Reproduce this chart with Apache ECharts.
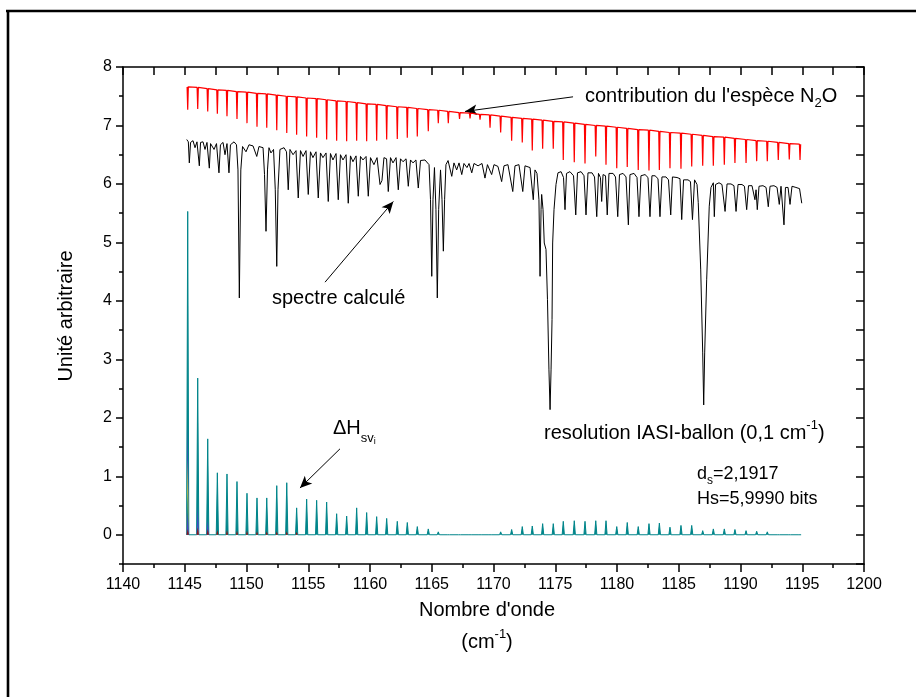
<!DOCTYPE html>
<html>
<head>
<meta charset="utf-8">
<script src="https://cdn.jsdelivr.net/npm/echarts@6/dist/echarts.min.js"></script>
<style>html,body{margin:0;padding:0;background:#fff}#c{width:916px;height:697px}</style>
</head>
<body>
<div id="c"></div>
<script>
// ---------- data ----------
const xTicks = [1140,1145,1150,1155,1160,1165,1170,1175,1180,1185,1190,1195,1200];
const yTicks = [0,1,2,3,4,5,6,7,8];

// N2O line positions (cm-1)
const lineX = [1145.24,1146.05,1146.86,1147.64,1148.42,1149.23,1150.04,1150.85,1151.64,1152.45,
  1153.26,1154.06,1154.87,1155.68,1156.49,1157.30,1158.11,1158.92,1159.73,1160.54,
  1161.35,1162.21,1163.02,1163.83,1164.72,1165.53,1166.34,1167.25,1168.10,1168.91,
  1169.72,1170.58,1171.47,1172.33,1173.14,1173.98,1174.84,1175.65,1176.54,1177.41,
  1178.28,1179.11,1179.98,1180.83,1181.72,1182.59,1183.43,1184.29,1185.18,1186.05,
  1186.94,1187.80,1188.69,1189.55,1190.45,1191.31,1192.17,1193.06,1193.95,1194.82];

// red curve : N2O contribution (continuum level and dip minima at each line)
const n2oTop = [7.66,7.65,7.63,7.61,7.60,7.58,7.57,7.55,7.54,7.52,7.50,7.49,7.47,7.46,7.44,7.42,7.41,7.39,7.37,7.36,
  7.34,7.32,7.31,7.29,7.27,7.26,7.24,7.22,7.21,7.19,7.18,7.16,7.14,7.12,7.11,7.09,7.07,7.06,7.04,7.02,
  7.00,6.99,6.97,6.95,6.93,6.92,6.90,6.88,6.87,6.85,6.83,6.81,6.80,6.78,6.76,6.74,6.73,6.71,6.69,6.68];
const n2oBottom = [7.27,7.28,7.24,7.20,7.16,7.11,7.04,6.98,6.96,6.92,6.87,6.84,6.81,6.79,6.76,6.74,6.73,6.74,6.73,6.74,
  6.76,6.77,6.79,6.81,6.90,7.04,7.04,7.11,7.12,7.10,6.96,6.88,6.74,6.71,6.57,6.60,6.60,6.41,6.37,6.35,
  6.47,6.33,6.27,6.29,6.24,6.23,6.24,6.27,6.26,6.30,6.31,6.31,6.33,6.36,6.36,6.39,6.39,6.41,6.42,6.41];

// Delta H_sv_i peaks at each line
const deltaH = [5.53,2.68,1.64,1.06,1.04,0.91,0.71,0.63,0.63,0.84,0.89,0.46,0.61,0.59,0.56,0.36,0.32,0.46,0.38,0.31,
  0.28,0.23,0.21,0.14,0.10,0.05,0.03,0,0,0,0.02,0.05,0.09,0.14,0.15,0.19,0.19,0.23,0.24,0.23,
  0.24,0.24,0.14,0.21,0.14,0.19,0.20,0.13,0.16,0.16,0.07,0.10,0.10,0.09,0.07,0.06,0.05,0.03,0.03,0.02];
// other coloured Delta H components (first lines only)
const deltaHBlueA = [1.88,0.48,0.25];
const deltaHYellow = [1.28,0.15];
const deltaHTealB = [0.73];
const deltaHBlueB = [0.38,0.20];
const deltaHRed = [0.10,0.13,0.10,0.08,0.08,0.07,0.07,0.06,0.06,0.06,0.06,0.05];

// black curve : calculated spectrum [wavenumber, value]
const spectreCalcule = [
 [1145.16,6.76],[1145.29,6.72],[1145.37,6.36],[1145.47,6.71],[1145.67,6.74],[1145.83,6.62],[1145.99,6.72],[1146.18,6.31],
 [1146.28,6.71],[1146.48,6.72],[1146.64,6.59],[1146.80,6.71],[1146.99,6.27],[1147.09,6.69],[1147.21,6.72],[1147.37,6.59],
 [1147.57,6.69],[1147.77,6.19],[1147.89,6.67],[1148.10,6.71],[1148.26,6.50],[1148.42,6.69],[1148.58,6.19],[1148.70,6.67],
 [1148.99,6.72],[1149.19,6.67],[1149.31,6.24],[1149.42,4.05],[1149.54,6.24],[1149.68,6.64],[1149.96,6.55],[1150.20,6.67],
 [1150.53,6.65],[1150.83,6.47],[1151.01,6.64],[1151.34,6.62],[1151.46,6.16],[1151.58,5.19],[1151.70,6.24],[1151.82,6.62],
 [1151.98,6.53],[1152.19,6.59],[1152.33,5.90],[1152.45,4.59],[1152.55,5.90],[1152.71,6.59],[1153.04,6.62],[1153.24,6.55],
 [1153.38,5.90],[1153.52,6.59],[1153.77,6.50],[1154.01,6.57],[1154.19,5.76],[1154.37,6.57],[1154.58,6.47],[1154.82,6.57],
 [1155.00,5.82],[1155.18,6.55],[1155.38,6.45],[1155.63,6.55],[1155.81,5.76],[1155.99,6.53],[1156.19,6.45],[1156.44,6.53],
 [1156.62,5.70],[1156.80,6.52],[1157.00,6.41],[1157.25,6.52],[1157.43,5.73],[1157.61,6.50],[1157.81,6.41],[1158.06,6.50],
 [1158.24,5.67],[1158.42,6.48],[1158.62,6.38],[1158.87,6.48],[1159.05,5.79],[1159.23,6.47],[1159.43,6.41],[1159.68,6.47],
 [1159.86,5.79],[1160.04,6.45],[1160.32,6.33],[1160.57,6.45],[1160.81,5.99],[1160.97,6.06],[1161.13,6.45],[1161.34,6.43],
 [1161.48,5.87],[1161.66,6.45],[1161.86,6.36],[1162.11,6.45],[1162.29,5.90],[1162.47,6.43],[1162.67,6.38],[1162.92,6.43],
 [1163.10,5.96],[1163.28,6.41],[1163.48,6.36],[1163.72,6.41],[1163.91,5.93],[1164.09,6.40],[1164.45,6.41],[1164.78,6.33],
 [1164.90,5.73],[1165.00,4.42],[1165.10,5.73],[1165.22,6.28],[1165.34,5.56],[1165.45,4.05],[1165.56,5.56],[1165.71,6.24],
 [1165.83,5.73],[1165.94,4.85],[1166.04,5.73],[1166.15,6.33],[1166.32,6.40],[1166.62,6.13],[1166.80,6.36],[1167.02,6.24],
 [1167.21,6.36],[1167.43,6.16],[1167.61,6.35],[1167.85,6.28],[1168.02,6.35],[1168.24,6.19],[1168.42,6.35],[1168.75,6.31],
 [1169.07,6.35],[1169.31,6.10],[1169.51,6.33],[1169.85,6.16],[1170.04,6.33],[1170.36,6.30],[1170.66,6.04],[1170.85,6.31],
 [1171.17,6.33],[1171.56,5.87],[1171.74,6.31],[1172.06,6.33],[1172.37,5.87],[1172.55,6.31],[1172.96,6.28],[1173.22,5.73],
 [1173.36,6.24],[1173.52,6.18],[1173.68,5.73],[1173.77,4.42],[1173.85,5.56],[1173.90,5.82],[1174.01,5.56],[1174.11,4.99],
 [1174.25,4.88],[1174.37,4.02],[1174.49,2.82],[1174.58,2.14],[1174.66,2.82],[1174.74,3.68],[1174.79,4.99],[1174.90,5.56],
 [1175.06,5.99],[1175.22,6.19],[1175.47,6.21],[1175.67,6.11],[1175.79,5.56],[1175.91,6.18],[1176.19,6.21],[1176.48,6.14],
 [1176.66,5.47],[1176.80,6.19],[1177.09,6.21],[1177.33,6.14],[1177.49,5.47],[1177.65,6.19],[1177.98,6.19],[1178.18,6.12],
 [1178.36,5.44],[1178.50,6.18],[1178.66,6.11],[1178.76,5.70],[1178.87,6.16],[1179.07,6.14],[1179.21,5.47],[1179.35,6.18],
 [1179.68,6.18],[1179.88,6.12],[1180.06,5.44],[1180.20,6.16],[1180.49,6.18],[1180.73,6.12],[1180.92,5.30],[1181.05,6.16],
 [1181.38,6.18],[1181.62,6.11],[1181.78,5.44],[1181.94,6.14],[1182.27,6.16],[1182.51,6.11],[1182.67,5.44],[1182.83,6.14],
 [1183.08,6.14],[1183.32,6.09],[1183.48,5.44],[1183.64,6.12],[1183.97,6.12],[1184.17,6.07],[1184.35,5.47],[1184.49,6.12],
 [1184.86,6.11],[1185.10,6.09],[1185.24,5.39],[1185.39,6.07],[1185.75,6.07],[1185.95,6.04],[1186.11,5.39],[1186.28,6.07],
 [1186.48,5.99],[1186.58,5.68],[1186.78,4.53],[1186.94,3.11],[1187.02,2.22],[1187.10,3.11],[1187.26,4.36],[1187.47,5.62],
 [1187.61,5.94],[1187.80,6.02],[1187.88,5.44],[1187.98,5.99],[1188.26,6.02],[1188.50,5.99],[1188.75,5.53],[1188.91,6.00],
 [1189.23,6.00],[1189.47,5.97],[1189.64,5.53],[1189.80,5.99],[1190.12,5.99],[1190.32,5.96],[1190.50,5.56],[1190.65,5.97],
 [1190.93,5.97],[1191.17,5.73],[1191.26,5.90],[1191.36,5.56],[1191.50,5.96],[1191.82,5.97],[1192.07,5.94],[1192.25,5.61],
 [1192.39,5.96],[1192.71,5.97],[1192.96,5.94],[1193.14,5.65],[1193.28,5.96],[1193.40,5.94],[1193.52,5.30],[1193.64,5.94],
 [1193.85,5.94],[1194.01,5.65],[1194.17,5.96],[1194.49,5.94],[1194.78,5.92],[1194.96,5.67]
];

// annotation arrows [from, to] in data units
const arrowN2O = [[1176.44,7.49],[1167.69,7.24]];
const arrowCalc = [[1156.36,4.32],[1161.89,5.70]];
const arrowDH = [[1157.57,1.47],[1154.33,0.80]];

// ---------- build ----------
const FONT = '"Liberation Sans", Arial, sans-serif';
function dipCurve(xs, top, bot, w) {
  const pts = [];
  for (let i = 0; i < xs.length; i++) {
    pts.push([xs[i] - w, top[i]], [xs[i], bot[i]], [xs[i] + w, top[i]]);
  }
  return pts;
}
function spikeCurve(xs, hs, w) {
  const pts = [];
  for (let i = 0; i < hs.length; i++) {
    pts.push([xs[i] - w, 0], [xs[i], hs[i]], [xs[i] + w, 0]);
  }
  return pts;
}
function spikeSeries(name, hs, color, z, lineW) {
  return {
    name, type: 'line', data: spikeCurve(lineX, hs, 0.09), showSymbol: false, symbol: 'none',
    lineStyle: { color, width: lineW }, areaStyle: { color, opacity: 1, origin: 'auto' },
    z, silent: true, animation: false
  };
}

const cv = document.createElement('canvas').getContext('2d');
function tw(t, s) { cv.font = s + 'px "Liberation Sans"'; return cv.measureText(t).width; }
// parts: [text, size, dy]
function textRun(x, y, parts, center) {
  let total = 0;
  parts.forEach(p => total += tw(p[0], p[1]));
  let cx = center ? x - total / 2 : x;
  const els = [];
  parts.forEach(p => {
    els.push({
      type: 'text', x: cx, y: y + p[2], z: 100, silent: true,
      style: { text: p[0], fill: '#000', fontSize: p[1], fontFamily: FONT,
               align: 'left', verticalAlign: 'middle' }
    });
    cx += tw(p[0], p[1]);
  });
  return els;
}

const graphics = [].concat(
  [{ type: 'line', shape: { x1: 6, y1: 11, x2: 916, y2: 11 }, style: { stroke: '#000', lineWidth: 2.6 }, z: 100, silent: true },
   { type: 'line', shape: { x1: 8, y1: 10, x2: 8, y2: 697 }, style: { stroke: '#000', lineWidth: 2.6 }, z: 100, silent: true }],
  textRun(585, 96, [["contribution du l'espèce N", 20, 0], ['2', 13, 7], ['O', 20, 0]]),
  textRun(272, 298, [['spectre calculé', 20, 0]]),
  textRun(333, 428, [['ΔH', 20, 0], ['sv', 13, 10], ['i', 9, 14]]),
  textRun(544, 433, [['resolution IASI-ballon (0,1 cm', 20, 0], ['-1', 13, -8], [')', 20, 0]]),
  textRun(697, 474, [['d', 18, 0], ['s', 12, 7], ['=2,1917', 18, 0]]),
  textRun(697, 499, [['Hs=5,9990 bits', 18, 0]]),
  textRun(487, 610, [["Nombre d'onde", 20, 0]], true),
  textRun(487, 642, [['(cm', 20, 0], ['-1', 13, -8], [')', 20, 0]], true),
  [{ type: 'text', x: 66, y: 316, rotation: Math.PI / 2, z: 100, silent: true,
     style: { text: 'Unité arbitraire', fill: '#000', fontSize: 20, fontFamily: FONT, align: 'center', verticalAlign: 'middle' } }]
);

const axisLine = { show: true, onZero: false, lineStyle: { color: '#000', width: 1.5 } };
const tickStyle = { color: '#000', width: 1.5 };

const option = {
  backgroundColor: '#fff',
  animation: false,
  grid: { left: 123, top: 67, width: 741, height: 497, containLabel: false },
  xAxis: [
    { type: 'value', position: 'bottom', min: 1140, max: 1200, interval: 5,
      axisLine, splitLine: { show: false },
      axisTick: { show: true, inside: false, length: 8, lineStyle: tickStyle },
      minorTick: { show: true, splitNumber: 2, length: 4, lineStyle: tickStyle },
      axisLabel: { color: '#000', fontSize: 16, fontFamily: FONT, margin: 13, showMinLabel: true, showMaxLabel: true,
                   customValues: xTicks, formatter: v => String(v) } },
    { type: 'value', position: 'top', min: 1140, max: 1200, interval: 2.5,
      axisLine, splitLine: { show: false },
      axisTick: { show: true, inside: true, length: 8, lineStyle: tickStyle },
      axisLabel: { show: false } }
  ],
  yAxis: [
    { type: 'value', position: 'left', min: -0.5, max: 8,
      axisLine, splitLine: { show: false },
      axisTick: { show: true, inside: false, length: 7, lineStyle: tickStyle, customValues: yTicks },
      axisLabel: { color: '#000', fontSize: 16, fontFamily: FONT, margin: 11, customValues: yTicks, formatter: v => String(v) } },
    { type: 'value', position: 'left', min: -0.5, max: 8, interval: 0.5,
      axisLine: { show: false, onZero: false }, splitLine: { show: false },
      axisTick: { show: true, inside: false, length: 4, lineStyle: tickStyle },
      axisLabel: { show: false } },
    { type: 'value', position: 'right', min: -0.5, max: 8, interval: 0.5,
      axisLine, splitLine: { show: false },
      axisTick: { show: true, inside: true, length: 8, lineStyle: tickStyle },
      axisLabel: { show: false } }
  ],
  series: [
    spikeSeries('ΔH', deltaH, '#00858a', 2, 1),
    spikeSeries('ΔH b1', deltaHBlueA, '#4646c8', 3, 0),
    spikeSeries('ΔH y', deltaHYellow, '#c6d62a', 4, 0),
    spikeSeries('ΔH t2', deltaHTealB, '#00858a', 5, 0),
    spikeSeries('ΔH b2', deltaHBlueB, '#4646c8', 6, 0),
    spikeSeries('ΔH r', deltaHRed, '#8b1a1a', 7, 0),
    { name: 'N2O', type: 'line', data: dipCurve(lineX, n2oTop, n2oBottom, 0.05), showSymbol: false, symbol: 'none',
      lineStyle: { color: '#ff0000', width: 1.2 }, z: 8, silent: true },
    { name: 'spectre', type: 'line', data: spectreCalcule, showSymbol: false, symbol: 'none',
      lineStyle: { color: '#000', width: 1 }, z: 9, silent: true,
      markLine: {
        silent: true, symbol: ['none', 'arrow'], symbolSize: [8, 12], animation: false,
        label: { show: false }, lineStyle: { color: '#000', width: 1, type: 'solid' },
        data: [
          [{ coord: arrowN2O[0] }, { coord: arrowN2O[1] }],
          [{ coord: arrowCalc[0] }, { coord: arrowCalc[1] }],
          [{ coord: arrowDH[0] }, { coord: arrowDH[1] }]
        ]
      } }
  ],
  graphic: graphics
};

const chart = echarts.init(document.getElementById('c'), null, { renderer: 'canvas' });
chart.setOption(option);
</script>
</body>
</html>
